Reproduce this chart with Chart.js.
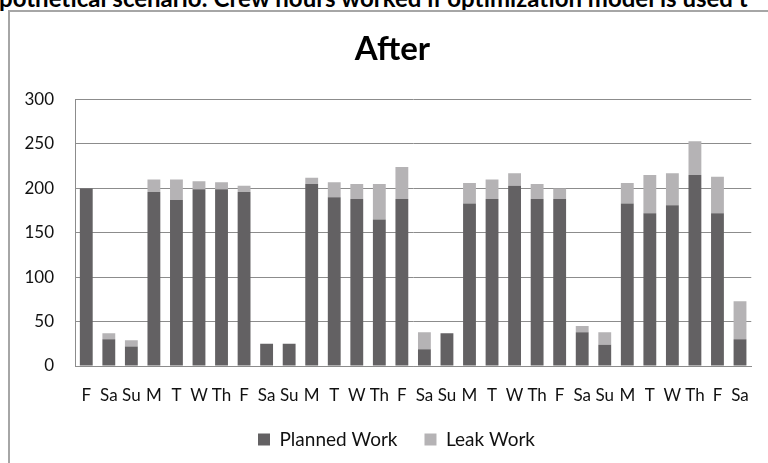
<!DOCTYPE html>
<html>
<head>
<meta charset="utf-8">
<script src="https://cdn.jsdelivr.net/npm/chart.js@4/dist/chart.umd.min.js"></script>
<style>
  html, body { margin: 0; padding: 0; background: #fff; }
  body { width: 768px; height: 463px; position: relative; overflow: hidden; }
  #caption {
    position: absolute; left: -1px; top: -17px;
    font: bold 24px Lato, sans-serif; white-space: nowrap; color: #000;
  }
  #frame {
    position: absolute; left: 8px; top: 10px; width: 800px; height: 500px;
    border-left: 2px solid #a6a6a6; border-top: 2px solid #a6a6a6;
  }
  #wrap { position: absolute; left: 0; top: 0; width: 768px; height: 463px; }
</style>
</head>
<body>
<div id="caption">pothetical scenario: Crew hours worked if optimization model is used t</div>
<div id="frame"></div>
<div id="wrap"><canvas id="chart"></canvas></div>
<script>
const days = ['F', 'Sa', 'Su', 'M', 'T', 'W', 'Th', 'F', 'Sa', 'Su', 'M', 'T', 'W', 'Th', 'F',
  'Sa', 'Su', 'M', 'T', 'W', 'Th', 'F', 'Sa', 'Su', 'M', 'T', 'W', 'Th', 'F', 'Sa'];
const plannedWork = [200, 30, 22, 196, 187, 199, 199, 196, 25, 25, 205, 190, 188, 165, 188,
  19, 37, 183, 188, 203, 188, 188, 38, 24, 183, 172, 181, 215, 172, 30];
const leakWork = [0, 7, 7, 14, 23, 9, 8, 7, 0, 0, 7, 17, 17, 40, 36,
  19, 0, 23, 22, 14, 17, 12, 7, 14, 23, 43, 36, 38, 41, 43];
const yTicks = [0, 50, 100, 150, 200, 250, 300];

const tickFont = { family: 'Lato, sans-serif', size: 17 };
const legendFont = { family: 'Lato, sans-serif', size: 19 };

// title and legend sit centred on the whole frame, not on the plot
const nudgeBlocks = {
  id: 'nudgeBlocks',
  afterLayout(chart) {
    chart.titleBlock.left += 8;
    chart.legend.left += 16;
  }
};

new Chart(document.getElementById('chart'), {
  type: 'bar',
  data: {
    labels: days,
    datasets: [
      { label: 'Planned Work', data: plannedWork, backgroundColor: '#636163' },
      { label: 'Leak Work', data: leakWork, backgroundColor: '#b5b3b5' }
    ]
  },
  plugins: [nudgeBlocks],
  options: {
    responsive: true,
    maintainAspectRatio: false,
    animation: false,
    layout: { padding: { left: 22, right: 13, top: 0, bottom: 4 } },
    datasets: { bar: { categoryPercentage: 1, barPercentage: 0.57 } },
    plugins: {
      title: {
        display: true, text: 'After', color: '#000',
        font: { family: 'Lato, sans-serif', size: 33, weight: 'bold' },
        padding: { top: 30, bottom: 30 }
      },
      legend: {
        position: 'bottom',
        labels: {
          color: '#111', font: legendFont, boxWidth: 12, boxHeight: 12, padding: 27
        }
      },
      tooltip: { enabled: false }
    },
    scales: {
      x: {
        stacked: true,
        afterFit: (axis) => { axis.height = 37; },
        grid: { display: false, drawTicks: false },
        border: { color: '#8c8c8c', width: 1 },
        ticks: { color: '#111', font: tickFont, padding: 19, maxRotation: 0, autoSkip: false }
      },
      y: {
        stacked: true,
        min: 0, max: 300,
        afterBuildTicks: (axis) => { axis.ticks = yTicks.map(v => ({ value: v })); },
        afterFit: (axis) => { axis.width = 53; },
        grid: { color: '#8c8c8c', drawTicks: false },
        border: { color: '#8c8c8c', width: 1 },
        ticks: { color: '#111', font: tickFont, padding: 21 }
      }
    }
  }
});
</script>
</body>
</html>
